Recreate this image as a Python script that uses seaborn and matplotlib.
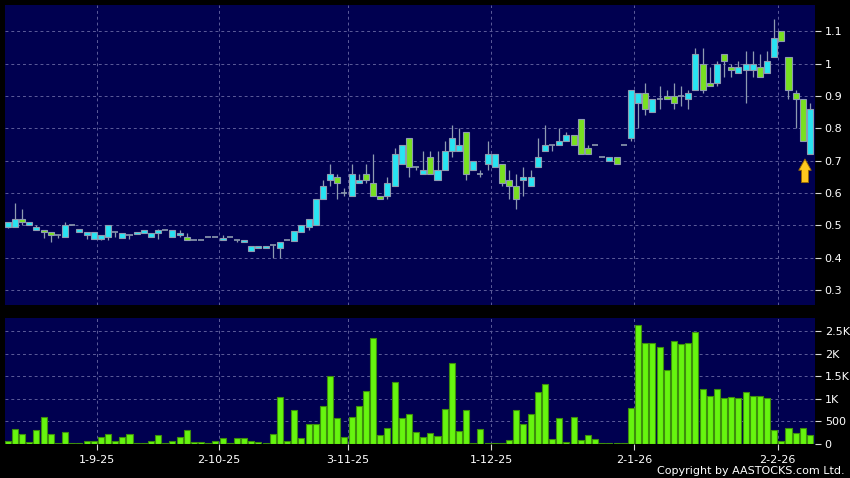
import numpy as np
import pandas as pd
import seaborn as sns
import matplotlib.pyplot as plt

# Daily candles, oldest first
opens = [0.495, 0.495, 0.52, 0.50, 0.485, 0.485, 0.478, 0.47, 0.463, 0.50,
         0.478, 0.47, 0.458, 0.458, 0.463, 0.478, 0.462, 0.469, 0.474, 0.475,
         0.463, 0.475, 0.484, 0.463, 0.469, 0.463, 0.453, 0.453, 0.463, 0.463,
         0.453, 0.463, 0.453, 0.447, 0.42, 0.428, 0.428, 0.438, 0.428, 0.453,
         0.452, 0.48, 0.495, 0.50, 0.58, 0.64, 0.65, 0.60, 0.59, 0.63,
         0.66, 0.63, 0.59, 0.59, 0.62, 0.69, 0.77, 0.68, 0.66, 0.71,
         0.64, 0.67, 0.73, 0.73, 0.79, 0.67, 0.66, 0.69, 0.68, 0.69,
         0.64, 0.62, 0.64, 0.62, 0.68, 0.73, 0.75, 0.75, 0.76, 0.78,
         0.83, 0.74, 0.75, 0.71, 0.70, 0.71, 0.75, 0.77, 0.88, 0.91,
         0.85, 0.89, 0.90, 0.90, 0.90, 0.89, 0.92, 1.00, 0.94, 0.94,
         1.03, 0.99, 0.97, 0.98, 0.98, 0.99, 0.97, 1.02, 1.10, 1.02,
         0.91, 0.89, 0.72]
highs = [0.51, 0.57, 0.55, 0.51, 0.50, 0.485, 0.478, 0.47, 0.51, 0.50,
         0.487, 0.478, 0.478, 0.469, 0.50, 0.478, 0.475, 0.469, 0.48, 0.484,
         0.475, 0.487, 0.484, 0.484, 0.484, 0.475, 0.453, 0.453, 0.463, 0.463,
         0.469, 0.463, 0.453, 0.453, 0.435, 0.435, 0.435, 0.438, 0.447, 0.453,
         0.483, 0.50, 0.52, 0.58, 0.64, 0.69, 0.66, 0.615, 0.69, 0.66,
         0.69, 0.72, 0.59, 0.65, 0.74, 0.75, 0.77, 0.68, 0.73, 0.73,
         0.73, 0.76, 0.81, 0.80, 0.79, 0.70, 0.67, 0.76, 0.72, 0.69,
         0.67, 0.66, 0.68, 0.67, 0.77, 0.81, 0.75, 0.80, 0.79, 0.78,
         0.83, 0.75, 0.75, 0.71, 0.71, 0.71, 0.75, 0.92, 0.91, 0.94,
         0.89, 0.93, 0.92, 0.94, 0.93, 0.92, 1.05, 1.05, 0.99, 1.01,
         1.03, 1.00, 1.01, 1.04, 1.04, 1.03, 1.04, 1.14, 1.10, 1.02,
         0.92, 0.89, 0.88]
lows = [0.49, 0.495, 0.50, 0.50, 0.485, 0.462, 0.447, 0.462, 0.463, 0.50,
        0.478, 0.458, 0.458, 0.453, 0.453, 0.463, 0.46, 0.458, 0.474, 0.475,
        0.463, 0.458, 0.484, 0.463, 0.463, 0.453, 0.453, 0.453, 0.463, 0.463,
        0.453, 0.463, 0.447, 0.447, 0.42, 0.428, 0.428, 0.40, 0.40, 0.453,
        0.452, 0.48, 0.485, 0.50, 0.58, 0.62, 0.58, 0.59, 0.59, 0.63,
        0.63, 0.59, 0.58, 0.58, 0.62, 0.69, 0.65, 0.67, 0.66, 0.66,
        0.64, 0.67, 0.71, 0.73, 0.64, 0.67, 0.65, 0.67, 0.68, 0.62,
        0.58, 0.55, 0.59, 0.62, 0.68, 0.73, 0.73, 0.75, 0.76, 0.75,
        0.72, 0.72, 0.75, 0.71, 0.70, 0.69, 0.75, 0.76, 0.80, 0.84,
        0.85, 0.86, 0.89, 0.86, 0.87, 0.86, 0.92, 0.91, 0.93, 0.93,
        0.96, 0.96, 0.97, 0.88, 0.96, 0.96, 0.97, 1.02, 1.07, 0.89,
        0.80, 0.76, 0.72]
closes = [0.51, 0.52, 0.51, 0.51, 0.495, 0.478, 0.47, 0.47, 0.50, 0.50,
          0.487, 0.478, 0.478, 0.469, 0.50, 0.478, 0.475, 0.469, 0.48, 0.484,
          0.475, 0.484, 0.484, 0.484, 0.475, 0.453, 0.453, 0.453, 0.463, 0.463,
          0.459, 0.463, 0.453, 0.453, 0.435, 0.435, 0.435, 0.438, 0.447, 0.453,
          0.483, 0.50, 0.52, 0.58, 0.62, 0.66, 0.63, 0.60, 0.66, 0.64,
          0.64, 0.59, 0.58, 0.63, 0.72, 0.75, 0.68, 0.68, 0.67, 0.66,
          0.67, 0.73, 0.77, 0.75, 0.66, 0.70, 0.66, 0.72, 0.72, 0.63,
          0.62, 0.58, 0.65, 0.65, 0.71, 0.75, 0.75, 0.76, 0.78, 0.75,
          0.72, 0.72, 0.75, 0.71, 0.71, 0.69, 0.75, 0.92, 0.91, 0.86,
          0.89, 0.89, 0.89, 0.88, 0.90, 0.91, 1.03, 0.92, 0.93, 1.00,
          1.01, 0.98, 0.99, 1.00, 1.00, 0.96, 1.01, 1.08, 1.07, 0.92,
          0.89, 0.76, 0.86]
volumes = [60, 320, 210, 30, 300, 590, 210, 15, 245, 5,
           5, 45, 50, 150, 220, 45, 135, 215, 5, 5,
           60, 185, 15, 50, 150, 290, 30, 30, 5, 50,
           125, 5, 120, 120, 60, 35, 5, 210, 1030, 45,
           750, 120, 430, 430, 840, 1490, 560, 135, 580, 840,
           1170, 2350, 200, 340, 1370, 565, 655, 245, 140, 240,
           170, 760, 1790, 275, 745, 15, 320, 5, 5, 5,
           75, 745, 430, 655, 1140, 1320, 110, 560, 35, 590,
           75, 180, 95, 10, 5, 10, 3, 795, 2640, 2225,
           2240, 2145, 1630, 2275, 2215, 2245, 2485, 1205, 1050, 1215,
           1005, 1040, 1010, 1145, 1065, 1055, 1005, 300, 45, 350,
           240, 355, 195]

# first candle of each month and its label
month_first = [13, 30, 48, 68, 88, 108]
month_labels = ["1-9-25", "2-10-25", "3-11-25", "1-12-25", "2-1-26", "2-2-26"]

price_ticks = [0.3, 0.4, 0.5, 0.6, 0.7, 0.8, 0.9, 1.0, 1.1]
vol_ticks = [0, 500, 1000, 1500, 2000, 2500]
vol_labels = ["0", "500", "1K", "1.5K", "2K", "2.5K"]

NAVY = "#000050"
CYAN = "#28e4f2"
GREEN = "#78e020"
VOL_GREEN = "#66f50f"
EDGE = "#8e9bb0"
GRID = "#5c5c9a"

df = pd.DataFrame({"open": opens, "high": highs, "low": lows,
                   "close": closes, "volume": volumes})
df["idx"] = np.arange(len(df))

sns.set_style("dark", {"axes.facecolor": NAVY, "figure.facecolor": "black"})
plt.rcParams["font.family"] = ["DejaVu Sans"]

fig = plt.figure(figsize=(8.5, 4.78), dpi=100)
ax = fig.add_axes([5 / 850, 1 - 305 / 478, 810 / 850, 300 / 478])
axv = fig.add_axes([5 / 850, 1 - 443.5 / 478, 810 / 850, 125.5 / 478])

# candles
w = 0.84
up = df[df.close > df.open]
down = df[df.close < df.open]
flat = df[df.close == df.open]
ax.vlines(df.idx, df.low, df.high, color=EDGE, lw=0.9, zorder=2)
ax.bar(up.idx, up.close - up.open, bottom=up.open, width=w,
       color=CYAN, edgecolor=EDGE, linewidth=0.8, zorder=3)
ax.bar(down.idx, down.open - down.close, bottom=down.close, width=w,
       color=GREEN, edgecolor=EDGE, linewidth=0.8, zorder=3)
ax.hlines(flat.close, flat.idx - w / 2, flat.idx + w / 2, color=EDGE, lw=1.2, zorder=3)

# marker arrow under the latest candle
ax.annotate("", xy=(111.3, 0.705), xytext=(111.3, 0.632),
            arrowprops=dict(arrowstyle="simple,head_width=1.0,head_length=0.9,tail_width=0.55",
                            fc="#ffc81e", ec="#9a6a00", lw=0.6, shrinkA=0, shrinkB=0,
                            mutation_scale=9), zorder=5)

# volume
sns.barplot(x=df.idx, y=df.volume, native_scale=True, width=w, color=VOL_GREEN,
            edgecolor="#3d8f0c", linewidth=0.8, saturation=1, errorbar=None, ax=axv)

xticks = [m - 0.5 for m in month_first]
for a in (ax, axv):
    a.set_xlim(-0.38, 112.7)
    a.set_xlabel("")
    a.set_ylabel("")
    a.set_facecolor(NAVY)
    a.set_xticks(xticks)
    a.yaxis.tick_right()
    a.grid(True, color=GRID, ls=(0, (3, 3)), lw=0.7)
    a.set_axisbelow(True)
    for s in a.spines.values():
        s.set_visible(False)
    a.tick_params(axis="y", colors="#d8d8d8", labelcolor="white", length=4,
                  width=0.8, pad=3, labelsize=8, left=False, right=True)

ax.set_ylim(0.253, 1.182)
ax.set_yticks(price_ticks)
ax.set_yticklabels([f"{v:g}" for v in price_ticks])
ax.tick_params(axis="x", length=0, labelbottom=False)

axv.set_ylim(0, 2790)
axv.set_yticks(vol_ticks)
axv.set_yticklabels(vol_labels)
axv.set_xticklabels(month_labels)
axv.tick_params(axis="x", colors="#d8d8d8", labelcolor="white", length=4,
                width=0.8, pad=4, labelsize=8, bottom=True)

fig.text(845 / 850, 1 - 471 / 478, "Copyright by AASTOCKS.com Ltd.",
         ha="right", va="center", color="white", fontsize=8)

fig.savefig("out.png", dpi=100, facecolor="black")
